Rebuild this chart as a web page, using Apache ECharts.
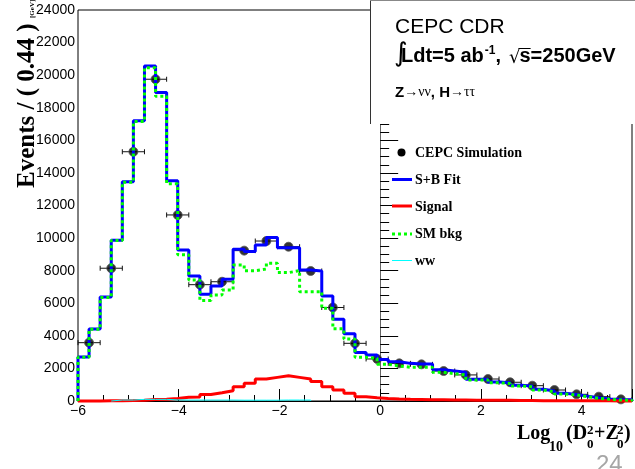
<!DOCTYPE html>
<html>
<head>
<meta charset="utf-8">
<script src="https://cdn.jsdelivr.net/npm/echarts@6/dist/echarts.min.js"></script>
<style>
  html, body { margin: 0; padding: 0; background: #fff; }
  #main { width: 635px; height: 469px; }
</style>
</head>
<body>
<div id="main"></div>
<script>
// fit curves: 50 fine bins of 0.22 starting at -6
var fineStart = -6;
var fineWidth = 0.22;
var sbFit = [2700, 4420, 6380, 9870, 13460, 17200, 20560, 18930, 13520, 9270,
             7670, 6560, 7060, 7470, 9310, 9170, 9580, 10030, 9410, 9410,
             8040, 7980, 6450, 5020, 4130, 2970, 2820, 2540, 2410, 2310,
             2270, 2270, 1920, 1840, 1760, 1340, 1330, 1160, 1120, 960,
             920, 720, 610, 470, 400, 300, 200, 130, 90, 70];
var smBkg = [2680, 4400, 6360, 9850, 13430, 17150, 20450, 18700, 13330, 8980,
             7430, 6170, 6500, 6810, 8350, 8000, 8100, 8450, 7880, 8000,
             6710, 6710, 5690, 4430, 3800, 2680, 2620, 2250, 2150, 2070,
             2070, 2070, 1760, 1680, 1600, 1290, 1290, 1120, 1080, 920,
             880, 675, 570, 430, 370, 265, 165, 100, 60, 50];
var signal = [0, 0, 10, 20, 30, 50, 90, 110, 150, 230,
              250, 400, 510, 630, 880, 1090, 1350, 1450, 1550, 1450,
              1350, 1190, 880, 675, 470, 265, 200, 150, 120, 100,
              90, 80, 70, 60, 60, 50, 50, 40, 40, 30,
              30, 20, 20, 20, 10, 10, 10, 10, 0, 0];
var wwBkg = [null, null, null, 60, 60, 100, 100, 100, 70, 60,
             60, 60, 60, 60, 50, 50, 50, 50, 60, 60,
             60, null, null, null, null, null, null, null, null, null,
             null, null, null, null, null, null, null, null, null, null,
             null, null, null, null, null, null, null, null, null, null];

// simulated data: 25 bins of 0.44 starting at -6
var dataStart = -6;
var dataWidth = 0.44;
var dataCounts = [3580, 8150, 15300, 19750, 11420, 7140, 7320, 9230, 9820, 9470,
                  7980, 5740, 3540, 2580, 2310, 2250, 1840, 1600, 1350, 1150,
                  940, 675, 410, 265, 100];

function histPoints(vals) {
  var pts = [];
  var last = -1;
  for (var k = 0; k < vals.length; k++) {
    if (vals[k] == null) continue;
    var x0 = +(fineStart + k * fineWidth).toFixed(2);
    if (pts.length === 0) pts.push([x0, 0]);
    pts.push([x0, vals[k]]);
    last = k;
  }
  var xe = +(fineStart + (last + 1) * fineWidth).toFixed(2);
  pts.push([xe, vals[last]]);
  pts.push([xe, 0]);
  return pts;
}

var pointData = dataCounts.map(function (v, i) {
  return [+(dataStart + (i + 0.5) * dataWidth).toFixed(2), v, dataWidth / 2];
});

var chart = echarts.init(document.getElementById('main'));

function stepSeries(name, vals, color, width, dash, z) {
  return {
    name: name,
    type: 'line',
    step: 'end',
    data: histPoints(vals),
    symbol: 'none',
    clip: false,
    z: z,
    lineStyle: { color: color, width: width, type: dash || 'solid' },
    animation: false
  };
}

var serif = 'Liberation Serif, Times New Roman, serif';
var sans = 'Liberation Sans, Arial, Helvetica, sans-serif';

// text placed on a baseline, left aligned
var measureCtx = document.createElement('canvas').getContext('2d');
function textWidth(str, font) { measureCtx.font = font; return measureCtx.measureText(str).width; }
function baseText(x, baseline, str, font, size) {
  return { type: 'text', x: x, y: baseline - 0.34 * size, z: 11,
           style: { text: str, font: font, fill: '#000', verticalAlign: 'middle' } };
}

// header line 2 laid out piece by piece
var header2 = [];
(function () {
  var x = 401, base = 63;
  var fb = 'bold 20px ' + sans, fs = 'bold 12px ' + sans, fr = '18px DejaVu Sans';
  header2.push({ type: 'text', x: 394, y: 63 - 0.34 * 26, z: 11,
                 style: { text: '\u222B', font: '26px DejaVu Sans', fill: '#000', verticalAlign: 'middle' } });
  header2.push(baseText(x, base, 'Ldt=5 ab', fb, 20)); x += textWidth('Ldt=5 ab', fb) + 1;
  header2.push(baseText(x, base - 8, '-1', fs, 12)); x += textWidth('-1', fs);
  header2.push(baseText(x, base, ',', fb, 20)); x += textWidth(',', fb) + 8;
  header2.push(baseText(x, base + 1, '\u221A', fr, 18)); x += textWidth('\u221A', fr) - 1;
  var sw = textWidth('s', fb);
  header2.push({ type: 'line', z: 11, shape: { x1: x - 1, y1: 48.5, x2: x + sw, y2: 48.5 },
                 style: { stroke: '#000', lineWidth: 1 } });
  header2.push(baseText(x, base, 's=250GeV', fb, 20));
})();

var option = {
  animation: false,
  grid: { left: 78, right: 3, top: 10, bottom: 68, show: true, borderColor: '#000', borderWidth: 1 },
  xAxis: {
    type: 'value', min: -6, max: 5, interval: 2,
    axisLine: { lineStyle: { color: '#000', width: 1 } },
    axisTick: { inside: true, length: 12, lineStyle: { color: '#000' } },
    minorTick: { show: true, splitNumber: 4, length: 6, lineStyle: { color: '#000' } },
    splitLine: { show: false },
    axisLabel: {
      fontSize: 14, color: '#000', fontFamily: sans, margin: 3, showMaxLabel: false,
      formatter: function (v) { return String(v).replace('-', '\u2212'); }
    }
  },
  yAxis: {
    type: 'value', min: 0, max: 24000, interval: 2000,
    axisLine: { show: true, lineStyle: { color: '#666', width: 1 } },
    axisTick: { show: true, inside: true, length: 18, lineStyle: { color: '#000' } },
    minorTick: { show: true, splitNumber: 4, length: 9, lineStyle: { color: '#000' } },
    splitLine: { show: false },
    axisLabel: {
      fontSize: 14, color: '#000', fontFamily: sans, margin: 3,
      formatter: function (v) { return String(v); }
    }
  },
  series: [
    {
      name: 'errors',
      type: 'custom',
      z: 1,
      clip: false,
      encode: { x: 0, y: 1 },
      data: pointData,
      renderItem: function (params, api) {
        var x = api.value(0), y = api.value(1), hw = api.value(2);
        var a = api.coord([x - hw, y]);
        var b = api.coord([x + hw, y]);
        var st = { stroke: '#111', lineWidth: 1 };
        return {
          type: 'group',
          children: [
            { type: 'line', shape: { x1: a[0], y1: a[1], x2: b[0], y2: b[1] }, style: st },
            { type: 'line', shape: { x1: a[0], y1: a[1] - 2.5, x2: a[0], y2: a[1] + 2.5 }, style: st },
            { type: 'line', shape: { x1: b[0], y1: b[1] - 2.5, x2: b[0], y2: b[1] + 2.5 }, style: st }
          ]
        };
      }
    },
    {
      name: 'CEPC Simulation',
      type: 'scatter',
      z: 1,
      data: pointData.map(function (p) { return [p[0], p[1]]; }),
      symbol: 'circle',
      symbolSize: 9,
      itemStyle: { color: '#000', borderColor: '#555', borderWidth: 1 }
    },
    stepSeries('S+B Fit', sbFit, '#0000ff', 3, null, 2),
    stepSeries('Signal', signal, '#ff0000', 3, null, 3),
    stepSeries('SM bkg', smBkg, '#00ff00', 3, [3, 3], 4),
    stepSeries('ww', wwBkg, '#00ffff', 1, null, 5)
  ],
  graphic: [
    // header box
    { type: 'rect', shape: { x: 371, y: 0, width: 264, height: 124 },
      style: { fill: '#fff' }, z: 10 },
    { type: 'line', shape: { x1: 370.5, y1: 0, x2: 370.5, y2: 124 }, style: { stroke: '#333', lineWidth: 1 }, z: 10 },
    { type: 'line', shape: { x1: 370, y1: 0.5, x2: 635, y2: 0.5 }, style: { stroke: '#888', lineWidth: 1 }, z: 10 },
    { type: 'text', x: 395, y: 17, z: 11,
      style: { text: 'CEPC CDR', font: '21px ' + sans, fill: '#000' } }
  ].concat(header2).concat([
    { type: 'text', x: 395, y: 85, z: 11,
      style: {
        text: '{b|Z}{r|\u2192\u03BD\u03BD}{b|, H}{r|\u2192\u03C4\u03C4}',
        rich: {
          b: { font: 'bold 15px ' + sans, fill: '#000' },
          r: { font: '14px ' + serif, fill: '#000' }
        }
      } },

    // legend
    { type: 'circle', shape: { cx: 401.5, cy: 152.5, r: 4 }, style: { fill: '#000' }, z: 10 },
    { type: 'text', x: 415, y: 153, z: 10,
      style: { text: 'CEPC Simulation', font: 'bold 14px ' + serif, fill: '#000', verticalAlign: 'middle' } },
    { type: 'line', shape: { x1: 392, y1: 179.5, x2: 412, y2: 179.5 }, style: { stroke: '#0000ff', lineWidth: 3 }, z: 10 },
    { type: 'text', x: 415, y: 180, z: 10,
      style: { text: 'S+B Fit', font: 'bold 14px ' + serif, fill: '#000', verticalAlign: 'middle' } },
    { type: 'line', shape: { x1: 392, y1: 206, x2: 412, y2: 206 }, style: { stroke: '#ff0000', lineWidth: 3 }, z: 10 },
    { type: 'text', x: 415, y: 207, z: 10,
      style: { text: 'Signal', font: 'bold 14px ' + serif, fill: '#000', verticalAlign: 'middle' } },
    { type: 'line', shape: { x1: 392, y1: 234, x2: 412, y2: 234 }, style: { stroke: '#00ff00', lineWidth: 3, lineDash: [3, 3] }, z: 10 },
    { type: 'text', x: 415, y: 234, z: 10,
      style: { text: 'SM bkg', font: 'bold 14px ' + serif, fill: '#000', verticalAlign: 'middle' } },
    { type: 'line', shape: { x1: 392, y1: 260.5, x2: 412, y2: 260.5 }, style: { stroke: '#00ffff', lineWidth: 1 }, z: 10 },
    { type: 'text', x: 415, y: 261, z: 10,
      style: { text: 'ww', font: 'bold 14px ' + serif, fill: '#000', verticalAlign: 'middle' } },

    // y axis title
    { type: 'text', x: 27.5, y: 188, rotation: Math.PI / 2, z: 10,
      style: { text: 'Events / ( 0.44 )', font: 'bold 25px ' + serif, fill: '#000', verticalAlign: 'middle' } },
    { type: 'text', x: 32, y: 18, rotation: Math.PI / 2, z: 10,
      style: { text: '[GeV]', font: 'bold 7px ' + serif, fill: '#000', verticalAlign: 'middle' } },

    // x axis title
    { type: 'text', x: 517, y: 434, z: 10, style: { text: 'Log', font: 'bold 20px ' + serif, fill: '#000', verticalAlign: 'middle' } },
    { type: 'text', x: 549, y: 447, z: 10, style: { text: '10', font: 'bold 14px ' + serif, fill: '#000', verticalAlign: 'middle' } },
    { type: 'text', x: 566, y: 434, z: 10, style: { text: '(D', font: 'bold 20px ' + serif, fill: '#000', verticalAlign: 'middle' } },
    { type: 'text', x: 587, y: 431, z: 10, style: { text: '2', font: 'bold 13px ' + serif, fill: '#000', verticalAlign: 'middle' } },
    { type: 'text', x: 587, y: 445, z: 10, style: { text: '0', font: 'bold 13px ' + serif, fill: '#000', verticalAlign: 'middle' } },
    { type: 'text', x: 594, y: 434, z: 10, style: { text: '+Z', font: 'bold 20px ' + serif, fill: '#000', verticalAlign: 'middle' } },
    { type: 'text', x: 617, y: 431, z: 10, style: { text: '2', font: 'bold 13px ' + serif, fill: '#000', verticalAlign: 'middle' } },
    { type: 'text', x: 617, y: 445, z: 10, style: { text: '0', font: 'bold 13px ' + serif, fill: '#000', verticalAlign: 'middle' } },
    { type: 'text', x: 624, y: 434, z: 10, style: { text: ')', font: 'bold 20px ' + serif, fill: '#000', verticalAlign: 'middle' } },

    // slide page number
    { type: 'text', x: 596, y: 453, z: 10, style: { text: '24', font: '24px ' + sans, fill: '#a6a6a6' } }
  ])
};

chart.setOption(option);
</script>
</body>
</html>
